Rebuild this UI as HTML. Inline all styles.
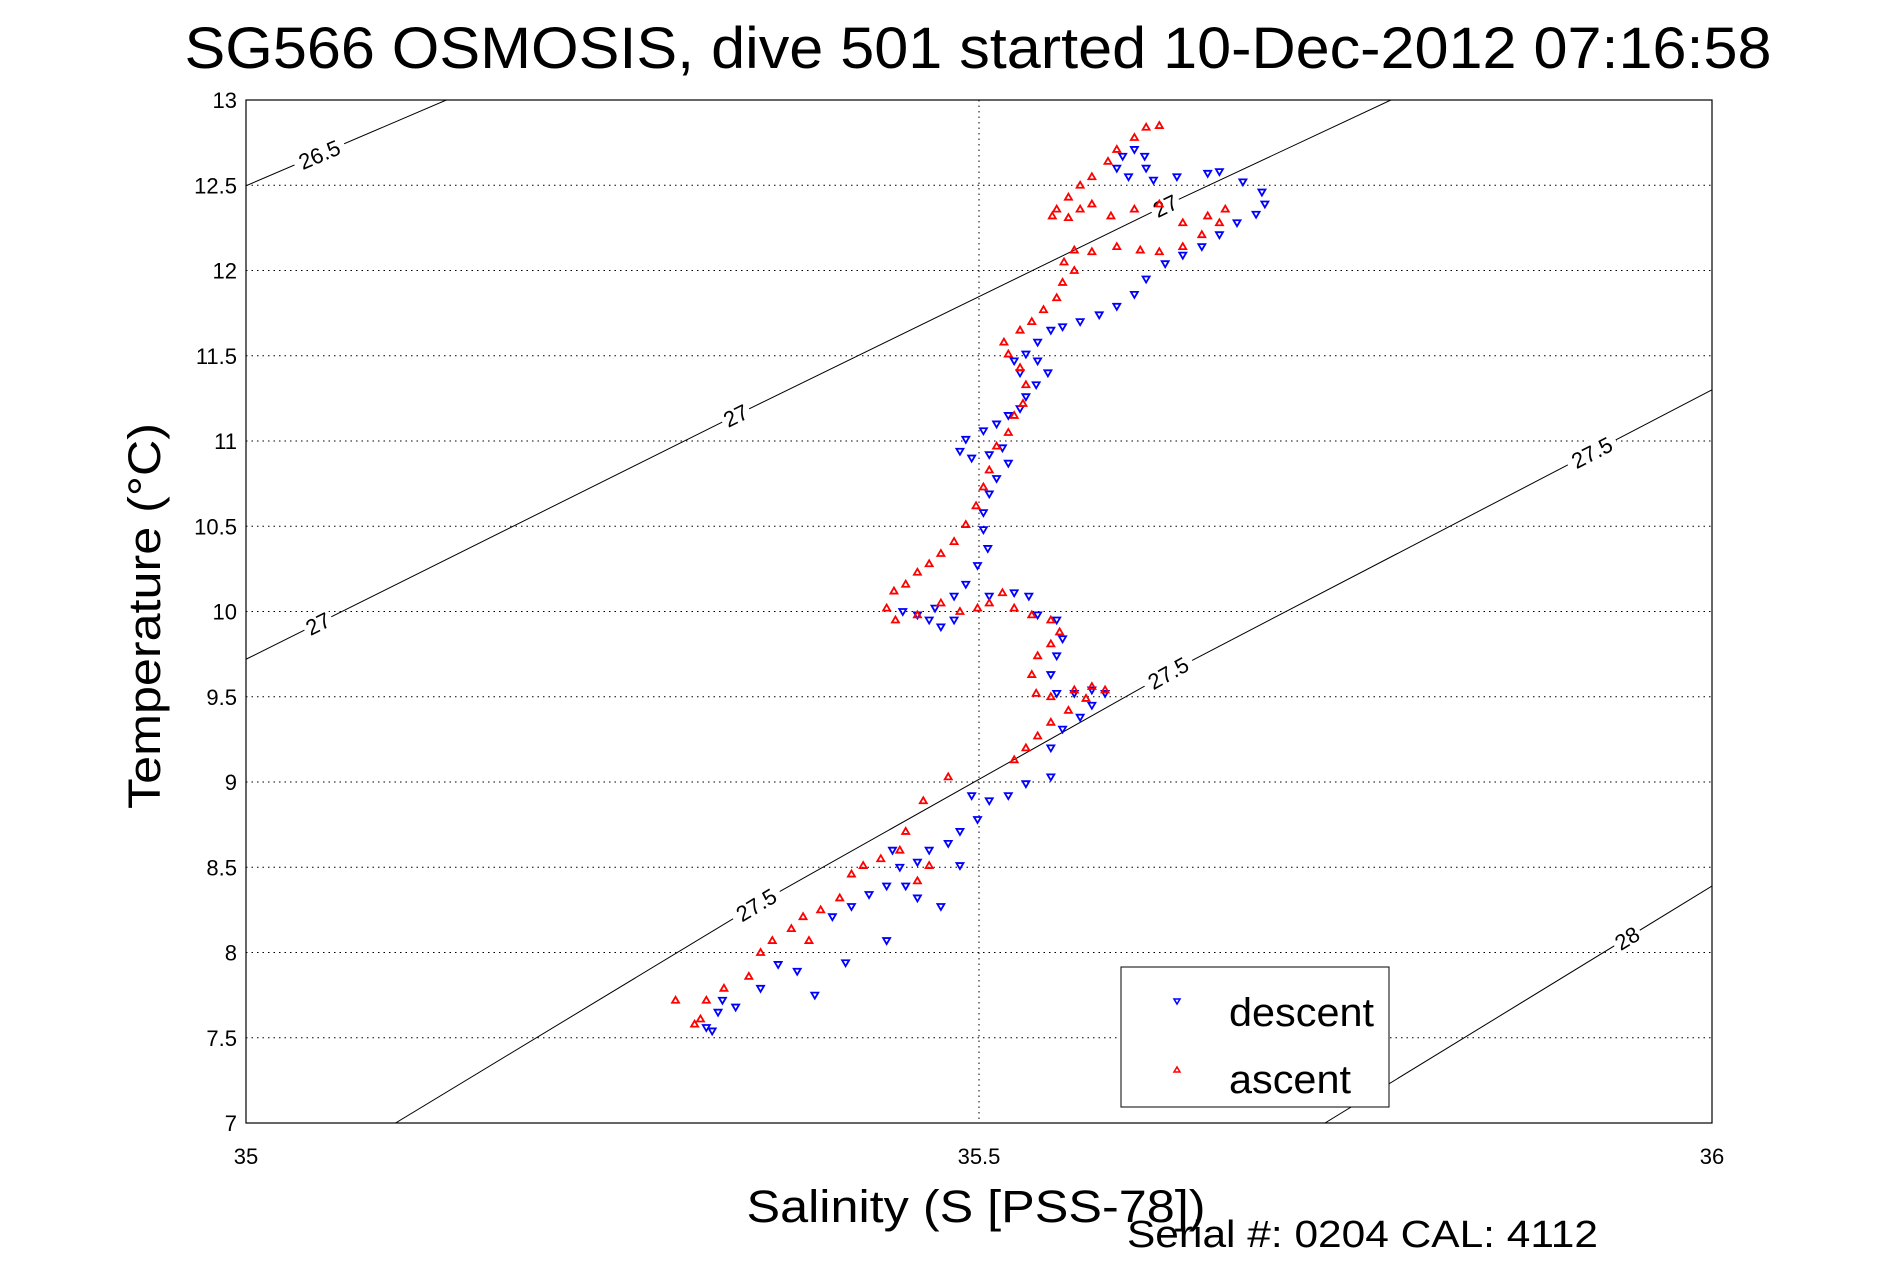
<!DOCTYPE html>
<html><head><meta charset="utf-8"><style>
html,body{margin:0;padding:0;background:#fff;}
svg{display:block;font-family:"Liberation Sans",sans-serif;}
</style></head><body>
<svg id="chart" width="1891" height="1262" viewBox="0 0 1891 1262">
<rect width="1891" height="1262" fill="#fff"/>
<text x="978" y="68" font-size="58" text-anchor="middle" textLength="1587" lengthAdjust="spacingAndGlyphs">SG566 OSMOSIS, dive 501 started 10-Dec-2012 07:16:58</text>
<g id="grid"></g>
<g id="contours"></g>
<g id="marks"></g>
<rect x="246" y="100" width="1466" height="1023" fill="none" stroke="#000" stroke-width="1.2"/>
<g id="ticks"></g>
<text x="976" y="1222" font-size="45" text-anchor="middle" textLength="459" lengthAdjust="spacingAndGlyphs">Salinity (S [PSS-78])</text>
<text transform="translate(160,616) rotate(-90)" font-size="45" text-anchor="middle" textLength="386" lengthAdjust="spacingAndGlyphs">Temperature (°C)</text>
<text x="1127" y="1247" font-size="38" textLength="471" lengthAdjust="spacingAndGlyphs">Serial #: 0204  CAL: 4112</text>
<g>
<rect x="1121" y="967" width="268" height="140" fill="#fff" stroke="#000" stroke-width="1"/>
<path d="M1174,999 L1180,999 L1177,1004 Z" fill="none" stroke="#00f" stroke-width="1.5"/>
<text x="1229" y="1026" font-size="40" textLength="145" lengthAdjust="spacingAndGlyphs">descent</text>
<path d="M1174,1072 L1180,1072 L1177,1067 Z" fill="none" stroke="#f00" stroke-width="1.5"/>
<text x="1229" y="1093" font-size="40" textLength="122" lengthAdjust="spacingAndGlyphs">ascent</text>
</g>
</svg>
<script>
const xTicks=[35,35.5,36];
const xTickLabels=["35","35.5","36"];
const yTicks=[7,7.5,8,8.5,9,9.5,10,10.5,11,11.5,12,12.5,13];
const yTickLabels=["7","7.5","8","8.5","9","9.5","10","10.5","11","11.5","12","12.5","13"];
const descentS=[35.606,35.613,35.614,35.602,35.594,35.598,35.619,35.635,35.656,35.664,35.680,35.693,35.695,35.689,35.676,35.664,35.652,35.639,35.627,35.614,35.606,35.594,35.582,35.569,35.557,35.549,35.540,35.532,35.524,35.528,35.540,35.547,35.539,35.532,35.528,35.520,35.512,35.503,35.491,35.487,35.495,35.507,35.516,35.520,35.512,35.507,35.503,35.503,35.506,35.499,35.491,35.483,35.470,35.466,35.474,35.483,35.458,35.448,35.507,35.524,35.534,35.540,35.553,35.557,35.553,35.549,35.553,35.565,35.577,35.586,35.577,35.569,35.557,35.549,35.549,35.532,35.520,35.507,35.499,35.487,35.479,35.466,35.458,35.446,35.437,35.425,35.413,35.400,35.474,35.437,35.409,35.388,35.376,35.363,35.351,35.334,35.322,35.318,35.314,35.325,35.450,35.458,35.441,35.487,35.495];
const descentT=[12.71,12.67,12.60,12.55,12.60,12.67,12.53,12.55,12.57,12.58,12.52,12.46,12.39,12.33,12.28,12.21,12.14,12.09,12.04,11.95,11.86,11.79,11.74,11.70,11.67,11.65,11.58,11.51,11.47,11.40,11.47,11.40,11.33,11.26,11.19,11.15,11.10,11.06,11.01,10.94,10.90,10.92,10.96,10.87,10.78,10.69,10.58,10.48,10.37,10.27,10.16,10.09,10.02,9.95,9.91,9.95,9.98,10.00,10.09,10.11,10.09,9.98,9.95,9.84,9.74,9.63,9.52,9.52,9.54,9.52,9.45,9.38,9.31,9.20,9.03,8.99,8.92,8.89,8.78,8.71,8.64,8.60,8.53,8.50,8.39,8.34,8.27,8.21,8.27,8.07,7.94,7.75,7.89,7.93,7.79,7.68,7.65,7.54,7.56,7.72,8.39,8.32,8.60,8.51,8.92];
const ascentS=[35.623,35.614,35.606,35.594,35.588,35.577,35.569,35.561,35.553,35.550,35.561,35.569,35.577,35.590,35.606,35.623,35.639,35.656,35.668,35.664,35.652,35.639,35.623,35.610,35.594,35.577,35.565,35.558,35.565,35.557,35.553,35.544,35.536,35.528,35.517,35.520,35.528,35.532,35.530,35.524,35.520,35.512,35.507,35.503,35.498,35.491,35.483,35.474,35.466,35.458,35.450,35.442,35.437,35.443,35.458,35.474,35.487,35.499,35.507,35.516,35.524,35.536,35.549,35.555,35.549,35.540,35.536,35.539,35.549,35.565,35.577,35.586,35.573,35.561,35.549,35.540,35.532,35.524,35.479,35.462,35.450,35.446,35.433,35.421,35.413,35.405,35.392,35.380,35.372,35.359,35.351,35.343,35.326,35.314,35.306,35.293,35.310,35.466,35.458,35.384];
const ascentT=[12.85,12.84,12.78,12.71,12.64,12.55,12.50,12.43,12.36,12.32,12.31,12.36,12.39,12.32,12.36,12.39,12.28,12.32,12.36,12.28,12.21,12.14,12.11,12.12,12.14,12.11,12.12,12.05,12.00,11.93,11.84,11.77,11.70,11.65,11.58,11.51,11.43,11.33,11.22,11.15,11.05,10.97,10.83,10.73,10.62,10.51,10.41,10.34,10.28,10.23,10.16,10.12,10.02,9.95,9.98,10.05,10.00,10.02,10.05,10.11,10.02,9.98,9.95,9.88,9.81,9.74,9.63,9.52,9.50,9.54,9.56,9.54,9.49,9.42,9.35,9.27,9.20,9.13,9.03,8.89,8.71,8.60,8.55,8.51,8.46,8.32,8.25,8.21,8.14,8.07,8.00,7.86,7.79,7.72,7.58,7.72,7.61,8.51,8.42,8.07];
const contourLevels=["26.5","27","27.5","28"];
const contourS=[[35,35.1367],[35,35.334,35.627,35.781],[35.102,35.348,35.629,36],[35.736,36]];
const contourT=[[12.497,13],[9.72,11.15,12.38,13],[7,8.28,9.64,11.30],[7,8.39]];
const labelLevelIndex=[0,1,1,1,2,2,2,3];
const labelS=[35.05,35.049,35.334,35.627,35.348,35.629,35.918,35.942];

const L=246,R=1712,T=100,B=1123;
const x=s=>L+(s-35)/(36-35)*(R-L);
const y=t=>B-(t-7)/(13-7)*(B-T);
const NS="http://www.w3.org/2000/svg";
function mk(tag,attrs,parent){const e=document.createElementNS(NS,tag);for(const k in attrs)e.setAttribute(k,attrs[k]);parent.appendChild(e);return e;}
const grid=document.getElementById('grid'),ticks=document.getElementById('ticks'),cont=document.getElementById('contours'),marks=document.getElementById('marks');
yTicks.forEach((v,i)=>{
  const g=mk('line',{x1:L,x2:R,y1:y(v),y2:y(v),stroke:'#000','stroke-width':1,'stroke-dasharray':'1.5,4'},grid);
  
  
  const t=mk('text',{x:L-9,y:y(v)+8,'font-size':22,'text-anchor':'end'},ticks);
  t.textContent=yTickLabels[i];
  
  
});
xTicks.forEach((v,i)=>{
  const g=mk('line',{x1:x(v),x2:x(v),y1:T,y2:B,stroke:'#000','stroke-width':1,'stroke-dasharray':'1.5,4'},grid);
  
  
  const t=mk('text',{x:x(v),y:1164,'font-size':22,'text-anchor':'middle'},ticks);
  t.textContent=xTickLabels[i];
  
  
});
const clip=mk('clipPath',{id:'pc'},document.getElementById('chart'));
mk('rect',{x:L,y:T,width:R-L,height:B-T},clip);
contourS.forEach((ss,k)=>{
  const pts=ss.map((s,i)=>x(s)+','+y(contourT[k][i])).join(' ');
  const p=mk('polyline',{points:pts,fill:'none',stroke:'#000','stroke-width':1,'clip-path':'url(#pc)'},cont);
  
  
});
function tAt(k,s){const ss=contourS[k],tt=contourT[k];for(let i=0;i<ss.length-1;i++){if(s>=ss[i]&&s<=ss[i+1]){const f=(s-ss[i])/(ss[i+1]-ss[i]);return [tt[i]+f*(tt[i+1]-tt[i]),i];}}return [tt[tt.length-1],ss.length-2];}
labelS.forEach((s,j)=>{
  const k=labelLevelIndex[j];const [tv,i]=tAt(k,s);
  const ss=contourS[k],tt=contourT[k];
  const ang=Math.atan2(y(tt[i+1])-y(tt[i]),x(ss[i+1])-x(ss[i]))*180/Math.PI;
  const g=mk('g',{transform:`translate(${x(s)},${y(tv)}) rotate(${ang})`},cont);
  
  
  const txt=contourLevels[k];
  const w=txt.length*12+6;
  mk('rect',{x:-w/2,y:-12,width:w,height:24,fill:'#fff'},g);
  const t=mk('text',{x:0,y:8,'font-size':22,'text-anchor':'middle'},g);
  t.textContent=txt;
});
descentS.forEach((s,i)=>{
  const px=x(s),py=y(descentT[i]);
  const m=mk('path',{d:`M${px-3.5},${py-2.5} L${px+3.5},${py-2.5} L${px},${py+3.5} Z`,fill:'none',stroke:'#00f','stroke-width':1.8},marks);
  
  
});
ascentS.forEach((s,i)=>{
  const px=x(s),py=y(ascentT[i]);
  const m=mk('path',{d:`M${px-3.5},${py+2.5} L${px+3.5},${py+2.5} L${px},${py-3.5} Z`,fill:'none',stroke:'#f00','stroke-width':1.8},marks);
  
  
});
</script>
</body></html>
